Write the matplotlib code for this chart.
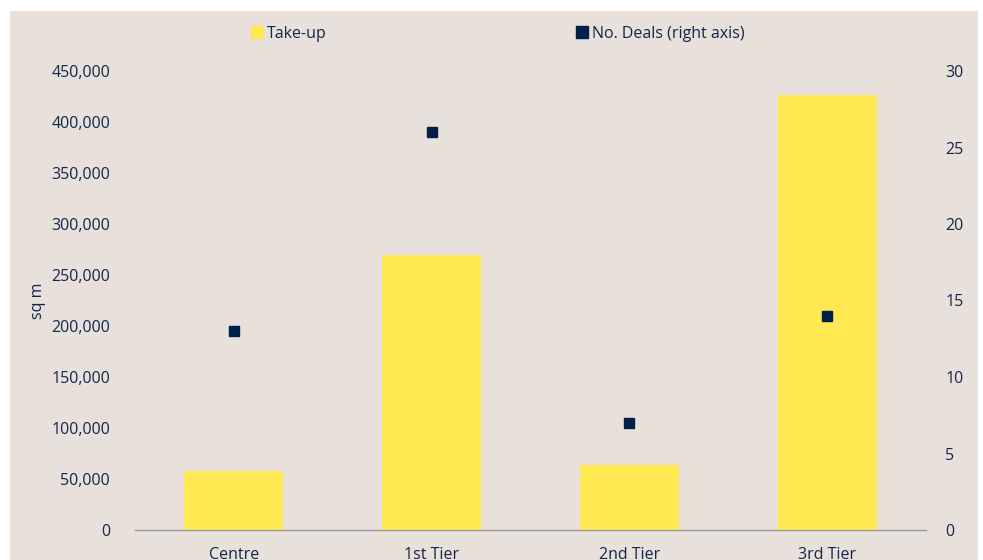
import matplotlib
matplotlib.use("Agg")
import matplotlib.pyplot as plt
from matplotlib.patches import Rectangle
from matplotlib.lines import Line2D

categories = ["Centre", "1st Tier", "2nd Tier", "3rd Tier"]
take_up = [58000, 270000, 64000, 426000]
deals = [13, 26, 7, 14]
left_ticks = [0, 50000, 100000, 150000, 200000, 250000, 300000, 350000, 400000, 450000]
right_ticks = [0, 5, 10, 15, 20, 25, 30]

BG = "#E7E0DB"
YEL = "#FFE851"
NAVY = "#002147"
TXT = "#14264A"

plt.rcParams['font.family'] = ['Open Sans', 'DejaVu Sans']

W, H = 983, 560
fig = plt.figure(figsize=(W / 100, H / 100), dpi=100, facecolor="white")
fig.patches.append(Rectangle((10 / W, 0), (978 - 10) / W, (H - 11) / H,
                             transform=fig.transFigure, facecolor=BG,
                             edgecolor="none", zorder=-10))

ax = fig.add_axes([135 / W, (H - 530) / H, (926 - 135) / W, (530 - 71) / H])
ax.set_facecolor("none")
x = list(range(len(categories)))
ax.bar(x, take_up, width=0.5, color=YEL, zorder=2)
ax.set_xlim(-0.5, len(categories) - 0.5)
ax.set_ylim(0, 450000)
ax.set_yticks(left_ticks)
ax.set_yticklabels([f"{v:,}" for v in left_ticks])
ax.set_xticks(x)
ax.set_xticklabels(categories)
for s in ["top", "right", "left"]:
    ax.spines[s].set_visible(False)
ax.spines["bottom"].set_color("#9A9A9A")
ax.spines["bottom"].set_linewidth(1.0)
ax.tick_params(axis="both", length=0, colors=TXT, labelsize=11.5)
ax.tick_params(axis="y", pad=18)
ax.tick_params(axis="x", pad=12)
ax.set_ylabel("sq m", color=TXT, fontsize=11.5, labelpad=4)

ax2 = ax.twinx()
ax2.set_ylim(0, 30)
ax2.set_yticks(right_ticks)
ax2.plot(x, deals, linestyle="none", marker="s", markersize=7.5,
         color=NAVY, zorder=3)
for s in ["top", "right", "left", "bottom"]:
    ax2.spines[s].set_visible(False)
ax2.tick_params(axis="y", length=0, colors=TXT, labelsize=11.5, pad=14)

handles = [Line2D([], [], linestyle="none", marker="s", markersize=8, color=YEL),
           Line2D([], [], linestyle="none", marker="s", markersize=8, color=NAVY)]
fig.legend(handles, ["Take-up", "No. Deals (right axis)"],
           loc="center", bbox_to_anchor=(497 / W, 1 - 34 / H), ncol=2,
           frameon=False, fontsize=11.5, labelcolor=TXT, columnspacing=15.5,
           handletextpad=0.1, handlelength=1.0)

fig.savefig("out.png", dpi=100, facecolor="white")
